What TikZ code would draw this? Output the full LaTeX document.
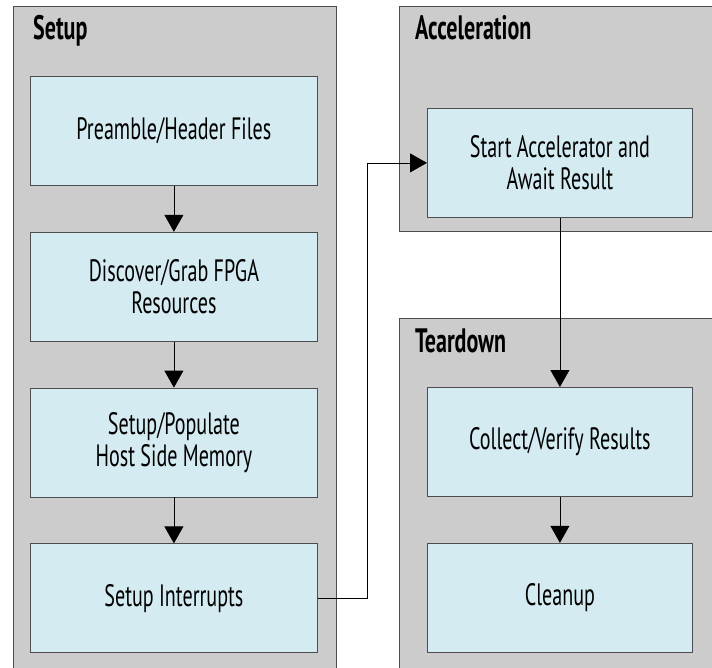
\documentclass[tikz,border=0pt]{standalone}
\usepackage{fontspec}
\setmainfont{PT Sans}[FakeStretch=0.65]
\usetikzlibrary{arrows.meta, positioning}
\definecolor{groupgray}{HTML}{CCCCCC}
\definecolor{stepblue}{HTML}{D4EBF2}
\definecolor{edgegray}{HTML}{4D4D4D}

\begin{document}
\begin{tikzpicture}[x=1bp, y=-1bp, node distance=46bp,
  group/.style={rectangle, draw=edgegray, fill=groupgray, line width=0.8bp, anchor=north west, inner sep=0pt},
  grouplabel/.style={anchor=base west, inner sep=0pt, font=\fontsize{34}{36}\selectfont\bfseries},
  block/.style={rectangle, draw=edgegray, fill=stepblue, line width=0.8bp, minimum width=287bp, minimum height=109bp, align=center, font=\fontsize{31}{32}\selectfont},
  line/.style={draw, line width=0.8bp, -{Triangle[width=19bp, length=17bp]}}]
  \useasboundingbox (0,0) rectangle (712,668);
  % stage groups
  \node [group, minimum width=323bp, minimum height=690bp] (setupgrp) at (13,6) {};
  \node [group, minimum width=330bp, minimum height=225bp] (accelgrp) at (399,6) {};
  \node [group, minimum width=330bp, minimum height=370bp] (teargrp) at (399,318) {};
  \node [grouplabel] (setuplbl) at (33,40) {Setup};
  \node [grouplabel] (accellbl) at (415,40) {Acceleration};
  \node [grouplabel] (tearlbl) at (415,352) {Teardown};
  % setup steps
  \node [block, anchor=north west] (pre) at (30,76) {Preamble/Header Files};
  \node [block, below=of pre] (grab) {Discover/Grab FPGA\\Resources};
  \node [block, below=of grab] (mem) {Setup/Populate\\Host Side Memory};
  \node [block, below=of mem] (irq) {Setup Interrupts};
  % acceleration and teardown steps
  \node [block, minimum width=265bp, anchor=north west] (start) at (427,108) {Start Accelerator and\\Await Result};
  \node [block, minimum width=265bp, anchor=north west] (collect) at (427,387) {Collect/Verify Results};
  \node [block, minimum width=265bp, below=of collect] (clean) {Cleanup};
  \draw [line] (pre) -- (grab);
  \draw [line] (grab) -- (mem);
  \draw [line] (mem) -- (irq);
  \draw [line] (irq.east) -- ++(50,0) |- (start.west);
  \draw [line] (start) -- (collect);
  \draw [line] (collect) -- (clean);
\end{tikzpicture}
\end{document}
